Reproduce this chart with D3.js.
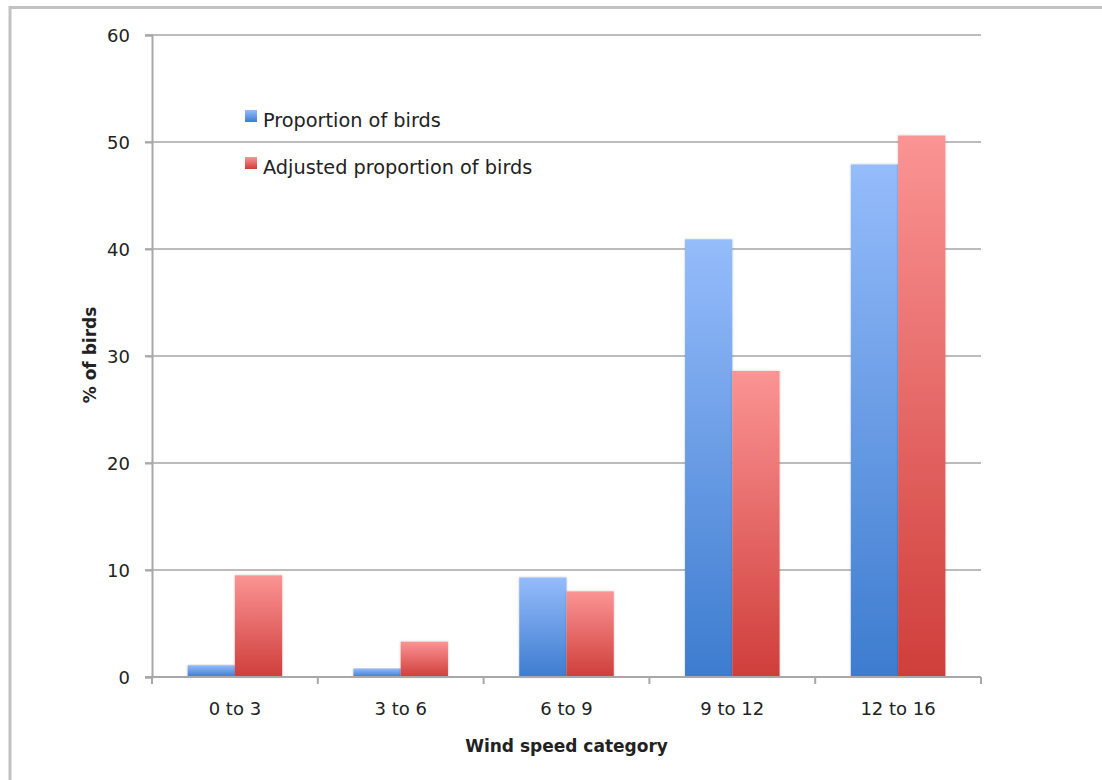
<!DOCTYPE html>
<html>
<head>
<meta charset="utf-8">
<script src="https://cdn.jsdelivr.net/npm/d3@7/dist/d3.min.js"></script>
<style>
  html, body { margin: 0; padding: 0; background: #fff; }
  svg { display: block; }
  text { font-family: "DejaVu Sans", Verdana, sans-serif; fill: #222; }
</style>
</head>
<body>
<svg id="chart" width="1102" height="780"></svg>
<script>
// Wind speed categories and the two series (% of birds)
const categories = ["0 to 3", "3 to 6", "6 to 9", "9 to 12", "12 to 16"];
const proportion = [1.1, 0.8, 9.3, 40.9, 47.9];
const adjusted = [9.5, 3.3, 8.0, 28.6, 50.6];
const seriesNames = ["Proportion of birds", "Adjusted proportion of birds"];
const yTicks = [0, 10, 20, 30, 40, 50, 60];

const svg = d3.select("#chart");
const W = 1102, H = 780;
const m = { left: 152, right: 121, top: 35, bottom: 103 };

// outer frame (top and left edges)
svg.append("path")
  .attr("d", `M10,${H} L10,7.5 L${W},7.5`)
  .attr("fill", "none").attr("stroke", "#c2c2c2").attr("stroke-width", 3);

const defs = svg.append("defs");
const grads = [
  { id: "gBlue", top: "#95bcfb", bottom: "#3d7ccf" },
  { id: "gRed", top: "#fb9494", bottom: "#cf3e3a" }
];
grads.forEach(g => {
  const lg = defs.append("linearGradient").attr("id", g.id)
    .attr("x1", 0).attr("y1", 0).attr("x2", 0).attr("y2", 1);
  lg.append("stop").attr("offset", "0%").attr("stop-color", g.top);
  lg.append("stop").attr("offset", "100%").attr("stop-color", g.bottom);
});
const shadow = defs.append("filter").attr("id", "soft")
  .attr("x", "-20%").attr("y", "-5%").attr("width", "140%").attr("height", "110%");
shadow.append("feDropShadow").attr("dx", 0).attr("dy", 0).attr("stdDeviation", 1.2)
  .attr("flood-color", "#000").attr("flood-opacity", 0.25);

const x = d3.scaleBand().domain(categories)
  .range([m.left, W - m.right]).paddingInner(0.43).paddingOuter(0.215);
const xs = d3.scaleBand().domain([0, 1]).range([0, x.bandwidth()]).padding(0);
const y = d3.scaleLinear().domain([0, 60]).range([H - m.bottom, m.top]);

// horizontal gridlines
svg.append("g").selectAll("line").data(yTicks.filter(d => d > 0)).join("line")
  .attr("x1", m.left - 7).attr("x2", W - m.right)
  .attr("y1", d => y(d)).attr("y2", d => y(d))
  .attr("stroke", "#bcbcbc").attr("stroke-width", 2);

// y axis
const yAxis = svg.append("g").attr("transform", `translate(${m.left},0)`)
  .call(d3.axisLeft(y).tickValues(yTicks).tickSize(7).tickPadding(15));
yAxis.select(".domain").attr("stroke", "#a8a8a8").attr("stroke-width", 2);
yAxis.selectAll(".tick line").attr("stroke", "#a8a8a8").attr("stroke-width", 2);
yAxis.selectAll(".tick text").attr("font-size", 18).attr("fill", "#222")
  .attr("dy", "0.36em")
  .style("font-family", "'DejaVu Sans', sans-serif");

// bars
const groups = svg.append("g").selectAll("g").data(categories).join("g")
  .attr("transform", d => `translate(${x(d)},0)`);
groups.selectAll("rect")
  .data((d, i) => [proportion[i], adjusted[i]].map((v, k) => ({ v, k })))
  .join("rect")
  .attr("x", d => xs(d.k))
  .attr("width", xs.bandwidth())
  .attr("y", d => y(d.v))
  .attr("height", d => y(0) - y(d.v))
  .attr("fill", d => d.k === 0 ? "url(#gBlue)" : "url(#gRed)")
  .attr("filter", "url(#soft)");

// x axis with boundary ticks between categories
const bounds = d3.range(categories.length + 1).map(i => m.left + i * (W - m.right - m.left) / categories.length);
const xAxisG = svg.append("g");
xAxisG.append("line")
  .attr("x1", m.left - 7).attr("x2", W - m.right)
  .attr("y1", y(0)).attr("y2", y(0))
  .attr("stroke", "#a8a8a8").attr("stroke-width", 2);
xAxisG.selectAll("line.b").data(bounds).join("line").attr("class", "b")
  .attr("x1", d => d).attr("x2", d => d)
  .attr("y1", y(0)).attr("y2", y(0) + 7)
  .attr("stroke", "#a8a8a8").attr("stroke-width", 2);
xAxisG.selectAll("text").data(categories).join("text")
  .attr("x", d => x(d) + x.bandwidth() / 2)
  .attr("y", y(0) + 38)
  .attr("text-anchor", "middle").attr("font-size", 18)
  .text(d => d);

// axis titles
svg.append("text")
  .attr("x", (m.left + W - m.right) / 2).attr("y", 752)
  .attr("text-anchor", "middle").attr("font-size", 17).attr("font-weight", "bold")
  .attr("fill", "#111").text("Wind speed category");
svg.append("text")
  .attr("transform", "translate(96,355) rotate(-90)")
  .attr("text-anchor", "middle").attr("font-size", 17).attr("font-weight", "bold")
  .attr("fill", "#111").text("% of birds");

// legend
const legend = svg.append("g").attr("transform", "translate(245,110)");
seriesNames.forEach((name, i) => {
  const g = legend.append("g").attr("transform", `translate(0,${i * 47})`);
  g.append("rect").attr("width", 12).attr("height", 12)
    .attr("fill", i === 0 ? "url(#gBlue)" : "url(#gRed)");
  g.append("text").attr("x", 18).attr("y", 17).attr("font-size", 19.3)
    .text(name);
});
</script>
</body>
</html>
